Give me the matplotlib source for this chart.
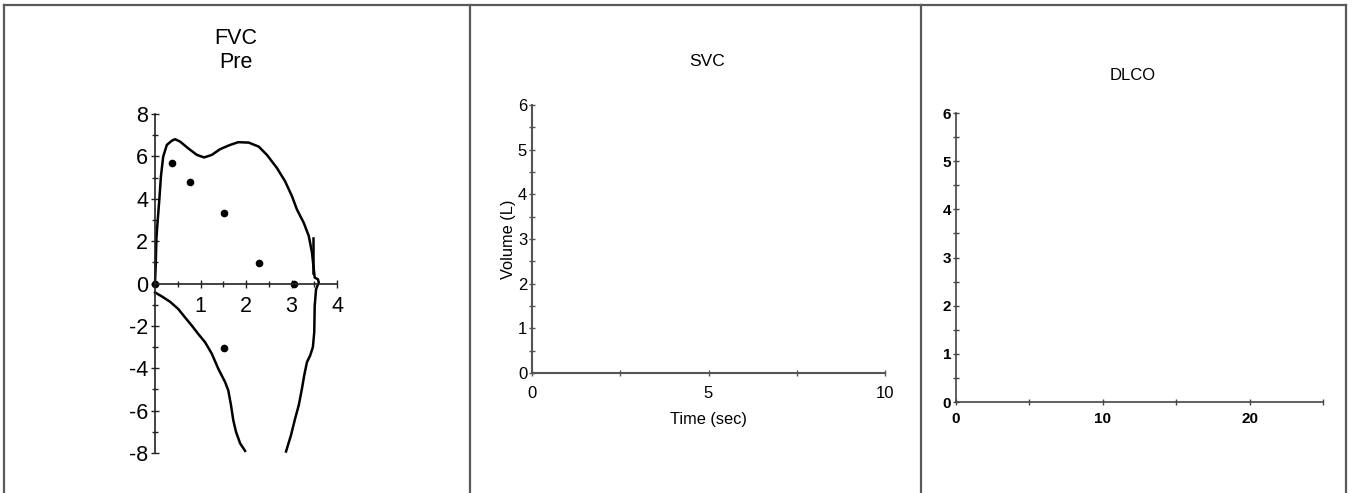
import matplotlib
matplotlib.use("Agg")
import matplotlib.pyplot as plt
from matplotlib.lines import Line2D
from matplotlib.ticker import MultipleLocator

plt.rcParams['font.family'] = ['Liberation Sans', 'DejaVu Sans']
plt.rcParams['axes.unicode_minus'] = False

# ---- FVC flow-volume data (x: volume L, y: flow L/s) ----
exp_x = [0, 0.015, 0.03, 0.05, 0.095, 0.13, 0.18, 0.26, 0.37, 0.44, 0.55, 0.73, 0.92,
         1.08, 1.25, 1.43, 1.65, 1.83, 2.06, 2.28, 2.46, 2.68, 2.86, 3.01, 3.12, 3.27,
         3.38, 3.45, 3.49, 3.51, 3.58, 3.60, 3.54, 3.51, 3.50, 3.47, 3.41, 3.34, 3.28,
         3.23, 3.16, 3.08, 2.99, 2.88]
exp_y = [0, 0.83, 2.08, 2.71, 3.96, 5.05, 5.99, 6.54, 6.74, 6.81, 6.70, 6.38, 6.07,
         5.95, 6.07, 6.34, 6.54, 6.67, 6.65, 6.46, 6.07, 5.45, 4.82, 4.12, 3.49, 2.86,
         2.24, 1.46, 0.67, 0.28, 0.20, 0.05, -0.27, -1.05, -2.30, -3.0, -3.40, -3.71,
         -4.33, -4.96, -5.74, -6.37, -7.15, -7.93]
insp_x = [0, 0.15, 0.33, 0.51, 0.66, 0.81, 0.95, 1.10, 1.25, 1.39, 1.54, 1.61, 1.67,
          1.72, 1.78, 1.87, 1.98]
insp_y = [-0.42, -0.61, -0.86, -1.2, -1.6, -1.99, -2.38, -2.77, -3.32, -4.02, -4.65,
          -5.04, -5.74, -6.45, -7.0, -7.54, -7.90]
marker_x = [3.47, 3.47]
marker_y = [0.5, 2.16]
pred_x = [0, 0.37, 0.77, 1.52, 2.29, 3.05, 1.52]
pred_y = [0, 5.71, 4.77, 3.33, 0.95, -0.03, -3.05]

fvc_xticks = [1, 2, 3, 4]
fvc_yticks = [-8, -6, -4, -2, 0, 2, 4, 6, 8]
svc_xticks = [0, 5, 10]
svc_yticks = [0, 1, 2, 3, 4, 5, 6]
dlco_xticks = [0, 10, 20]
dlco_yticks = [0, 1, 2, 3, 4, 5, 6]

W, H = 1354, 493
fig = plt.figure(figsize=(W / 100, H / 100), dpi=100)


def fx(px):
    return px / W


def fy(py):
    return 1 - py / H


# panel frame lines
frame_col = '#5a5a5a'
for x in (4, 470, 921, 1346):
    fig.add_artist(Line2D([fx(x), fx(x)], [fy(5), fy(493)], color=frame_col, lw=1.6,
                          transform=fig.transFigure))
fig.add_artist(Line2D([fx(4), fx(1346)], [fy(5), fy(5)], color=frame_col, lw=1.6,
                      transform=fig.transFigure))

# ---- FVC panel ----
ax1 = fig.add_axes([fx(155), fy(453), fx(337) - fx(155), fy(114) - fy(453)])
ax1.set_xlim(0, 4)
ax1.set_ylim(-8, 8)
ax1.plot(exp_x, exp_y, color='black', lw=1.8, clip_on=False)
ax1.plot(insp_x, insp_y, color='black', lw=1.8, clip_on=False)
ax1.plot(marker_x, marker_y, color='black', lw=1.8, clip_on=False)
ax1.plot(pred_x, pred_y, 'o', color='black', ms=4.5, clip_on=False)
for s in ('top', 'right'):
    ax1.spines[s].set_visible(False)
ax1.spines['left'].set_position(('data', 0))
ax1.spines['bottom'].set_position(('data', 0))
for s in ('left', 'bottom'):
    ax1.spines[s].set_color('#222222')
    ax1.spines[s].set_linewidth(1.2)
ax1.set_xticks(fvc_xticks)
ax1.set_yticks(fvc_yticks)
ax1.xaxis.set_minor_locator(MultipleLocator(0.5))
ax1.yaxis.set_minor_locator(MultipleLocator(1))
ax1.tick_params(axis='both', which='both', direction='inout', color='#222222', width=1)
ax1.tick_params(axis='both', which='major', length=6, labelsize=15.5)
ax1.tick_params(axis='both', which='minor', length=5)
ax1.tick_params(axis='x', pad=6)
ax1.tick_params(axis='y', pad=2)
ax1.set_yticklabels([str(v) for v in fvc_yticks])
ax1.patch.set_alpha(0)
fig.text(fx(236), fy(38), 'FVC', ha='center', va='center', fontsize=15.5)
fig.text(fx(236), fy(62), 'Pre', ha='center', va='center', fontsize=15.5)

# ---- SVC panel ----
ax2 = fig.add_axes([fx(532), fy(373), fx(885) - fx(532), fy(105) - fy(373)])
ax2.set_xlim(0, 10)
ax2.set_ylim(0, 6)
for s in ('top', 'right'):
    ax2.spines[s].set_visible(False)
for s in ('left', 'bottom'):
    ax2.spines[s].set_color('#555555')
    ax2.spines[s].set_linewidth(1.5)
ax2.set_xticks(svc_xticks)
ax2.set_yticks(svc_yticks)
ax2.xaxis.set_minor_locator(MultipleLocator(2.5))
ax2.yaxis.set_minor_locator(MultipleLocator(0.5))
ax2.tick_params(axis='both', which='both', direction='inout', color='#555555', width=1)
ax2.tick_params(axis='both', which='major', length=5, labelsize=12)
ax2.tick_params(axis='both', which='minor', length=4)
ax2.tick_params(axis='x', pad=7)
ax2.tick_params(axis='y', pad=1)
ax2.set_xlabel('Time (sec)', fontsize=11.8, labelpad=8)
ax2.set_ylabel('Volume (L)', fontsize=11.8, labelpad=1)
fig.text(fx(707), fy(62), 'SVC', ha='center', va='center', fontsize=12.5)

# ---- DLCO panel ----
ax3 = fig.add_axes([fx(956), fy(402), fx(1323) - fx(956), fy(113) - fy(402)])
ax3.set_xlim(0, 25)
ax3.set_ylim(0, 6)
for s in ('top', 'right'):
    ax3.spines[s].set_visible(False)
for s in ('left', 'bottom'):
    ax3.spines[s].set_color('#444444')
    ax3.spines[s].set_linewidth(1.2)
ax3.set_xticks(dlco_xticks)
ax3.set_yticks(dlco_yticks)
ax3.xaxis.set_minor_locator(MultipleLocator(5))
ax3.yaxis.set_minor_locator(MultipleLocator(0.5))
ax3.tick_params(axis='both', which='both', direction='inout', color='#444444', width=1)
ax3.tick_params(axis='both', which='major', length=5, labelsize=11)
ax3.tick_params(axis='both', which='minor', length=4)
ax3.tick_params(axis='x', pad=5)
ax3.tick_params(axis='y', pad=1)
for lab in ax3.get_xticklabels() + ax3.get_yticklabels():
    lab.set_fontweight('bold')
fig.text(fx(1133), fy(75), 'DLCO', ha='center', va='center', fontsize=12)

fig.savefig('out.png', dpi=100, facecolor='white')
